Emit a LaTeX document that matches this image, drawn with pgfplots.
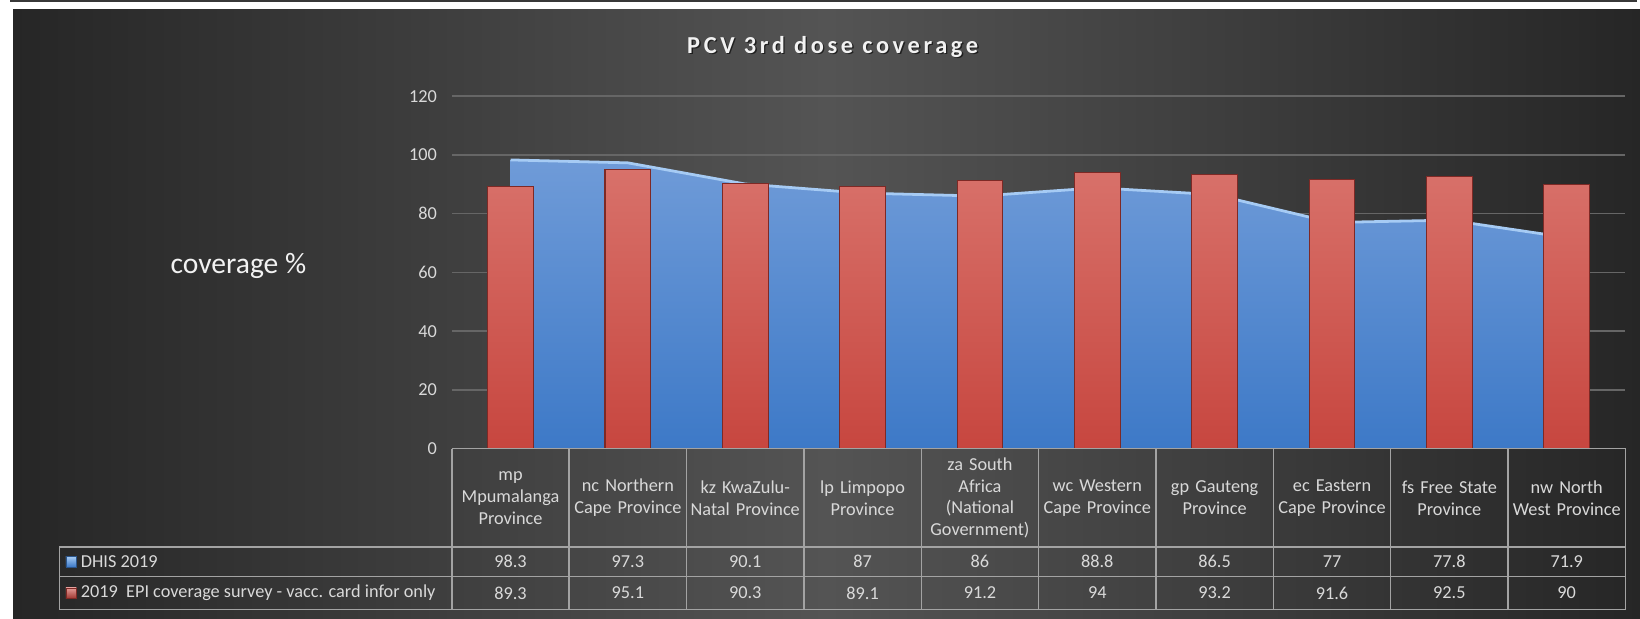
\documentclass[border=0pt]{standalone}
\usepackage{fontspec}
\setmainfont{Carlito}
\newfontfamily\titlefont[LetterSpace=15]{Carlito}
\usepackage{pgfplots}
\pgfplotsset{compat=1.18}

\definecolor{bgdark}{HTML}{262626}
\definecolor{bglight}{HTML}{545454}
\definecolor{gridc}{HTML}{666666}
\definecolor{tickc}{HTML}{D9D9D9}
\definecolor{tablec}{HTML}{A3A3A3}
\definecolor{areatop}{HTML}{6F9BD8}
\definecolor{areabot}{HTML}{3D79C7}
\definecolor{areaedge}{HTML}{A6CBF4}
\definecolor{bartop}{HTML}{D8716A}
\definecolor{barbot}{HTML}{C7463F}
\definecolor{baredge}{HTML}{7E2925}

\pgfplotstableread{
x dhis epi
0 98.3 89.3
1 97.3 95.1
2 90.1 90.3
3 87   89.1
4 86   91.2
5 88.8 94
6 86.5 93.2
7 77   91.6
8 77.8 92.5
9 71.9 90
}\datatable

\begin{document}
\begin{tikzpicture}
\useasboundingbox (0,0) rectangle (943pt,355.9pt);
\fill[white] (0,0) rectangle (943pt,355.9pt);
\fill[black!78] (5.75pt,354.6pt) rectangle (941pt,355.9pt);
\shade[left color=bgdark, right color=bgdark, middle color=bglight] (7.5pt,0pt) rectangle (943pt,350.2pt);

% title
\node[text=black, opacity=0.6] at (479.6pt,328.0pt) {\titlefont\fontsize{14}{16}\selectfont\bfseries PCV 3rd dose coverage};
\node[text=white!95!black] at (478.8pt,328.8pt) {\titlefont\fontsize{14}{16}\selectfont\bfseries PCV 3rd dose coverage};
% y label
\node[text=white!95!black] at (137.1pt,203.1pt) {\fontsize{17}{20}\selectfont coverage \%};

\begin{axis}[
  at={(259.8pt,97.9pt)}, anchor=south west,
  scale only axis, width=674.8pt, height=202.7pt,
  xmin=-0.5, xmax=9.5, ymin=0, ymax=120,
  ytick={0,20,...,120},
  xtick={0,...,9},
  xticklabels={{mp\\Mpumalanga\\Province},{nc Northern\\Cape Province},{kz KwaZulu-\\Natal Province},{lp Limpopo\\Province},{za South\\Africa\\(National\\Government)},{wc Western\\Cape Province},{gp Gauteng\\Province},{ec Eastern\\Cape Province},{fs Free State\\Province},{nw North\\West Province}},
  axis line style={draw=none},
  major tick style={draw=none},
  ymajorgrids, grid style={gridc, line width=0.9pt},
  /pgf/number format/assume math mode=true,
  yticklabel style={text=tickc, font=\fontsize{10.5}{12}\selectfont, xshift=-5pt},
  xticklabel style={text=tickc, font=\fontsize{10.5}{12.6}\selectfont, text width=66pt, align=center, anchor=center, yshift=-28.3pt, inner sep=0pt},
]
\addplot[draw=none, top color=areatop, bottom color=areabot] table[x=x, y=dhis] {\datatable} \closedcycle;
\addplot[areaedge, line width=1.6pt, mark=none] table[x=x, y=dhis] {\datatable};
\addplot[ybar, bar width=0.39, bar shift=0pt, draw=baredge, line width=0.6pt, top color=bartop, bottom color=barbot] table[x=x, y=epi] {\datatable};
\end{axis}

% data table
\begin{scope}[tablec, line width=0.8pt]
\draw (259.8pt,97.9pt) -- (934.6pt,97.9pt) -- (934.6pt,5.3pt) -- (34.3pt,5.3pt) -- (34.3pt,41.4pt) -- (934.6pt,41.4pt);
\draw (34.3pt,24.55pt) -- (934.6pt,24.55pt);
\foreach \k in {0,...,9} \draw ({259.8pt+67.48pt*\k},97.9pt) -- ({259.8pt+67.48pt*\k},5.3pt);
\end{scope}
\foreach \v [count=\i from 0] in {98.3,97.3,90.1,87,86,88.8,86.5,77,77.8,71.9}
  \node[text=tickc, font=\fontsize{10.5}{12}\selectfont] at ({259.8pt+67.48pt*(\i+0.5)},33.0pt) {\v};
\foreach \v [count=\i from 0] in {89.3,95.1,90.3,89.1,91.2,94,93.2,91.6,92.5,90}
  \node[text=tickc, font=\fontsize{10.5}{12}\selectfont] at ({259.8pt+67.48pt*(\i+0.5)},14.9pt) {\v};
% legend keys
\shade[top color=areaedge, bottom color=areabot, draw=areabot!70!black, line width=0.3pt] (37.9pt,30.0pt) rectangle (43.9pt,36.0pt);
\shade[top color=bartop!70!white, bottom color=barbot!80!black, draw=baredge, line width=0.3pt] (37.9pt,11.9pt) rectangle (43.9pt,17.9pt);
\node[anchor=west, text=tickc, font=\fontsize{10.5}{12}\selectfont, inner sep=0pt] at (46.3pt,33.0pt) {DHIS 2019};
\node[anchor=west, text=tickc, font=\fontsize{10.5}{12}\selectfont, inner sep=0pt] at (46.3pt,14.9pt) {2019\ \ EPI coverage survey - vacc. card infor only};
\end{tikzpicture}
\end{document}
